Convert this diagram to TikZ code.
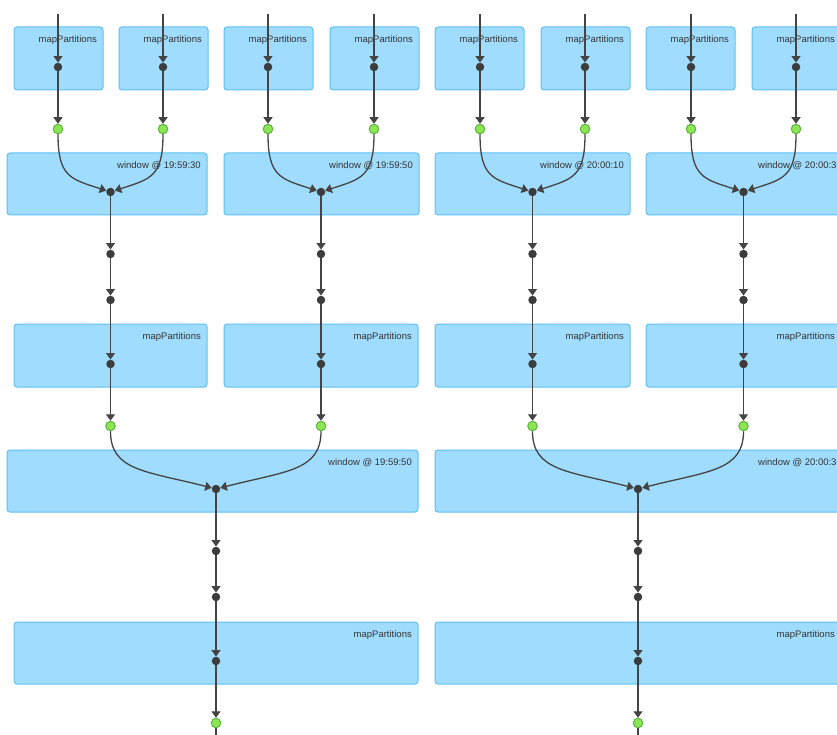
\documentclass[tikz,border=0pt]{standalone}
\usepackage{fontspec}
\newfontfamily\dagfont{Liberation Sans}
\usetikzlibrary{arrows.meta}

\definecolor{dStageFill}{HTML}{A0DCFD}
\definecolor{dStageEdge}{HTML}{5CC1F4}
\definecolor{dInk}{HTML}{333333}
\definecolor{dEdge}{HTML}{444444}
\definecolor{dDot}{HTML}{3C3C3C}
\definecolor{dCacheFill}{HTML}{8BE554}
\definecolor{dCacheEdge}{HTML}{5BB53C}
\newcommand{\rddbox}[6]{%
  \node[stagebox, minimum width=#4pt-#2pt, minimum height=#5pt-#3pt]
    (#1) at ({(#2+#4)/2},{(#3+#5)/2}) {};
  \node[stagelab] (#1lab) at ([xshift=-6pt,yshift=-13pt]#1.north east) {#6};}

\begin{document}
\begin{tikzpicture}[
  x=1pt, y=-1pt,
  stagebox/.style={draw=dStageEdge, fill=dStageFill, line width=1pt,
    rounded corners=3pt, inner sep=0pt, outer sep=0pt},
  stagelab/.style={anchor=east, inner sep=0pt, text=dInk,
    font=\dagfont\fontsize{9.5}{11}\selectfont},
  rdddot/.style={circle, fill=dDot, draw=none, minimum size=8.5pt, inner sep=0pt},
  cachedot/.style={circle, fill=dCacheFill, draw=dCacheEdge, line width=1pt,
    minimum size=9.5pt, inner sep=0pt},
  flow/.style={draw=dEdge, line width=1.3pt, -{Triangle[width=9pt,length=6.5pt]}},
  tail/.style={draw=dEdge, line width=1.3pt},
]
\useasboundingbox (0,0) rectangle (837,735);
\clip (0,0) rectangle (837,735);

% ---- first mapPartitions row --------------------------------------------
\rddbox{mpA1}{14}{27}{103}{90}{mapPartitions}
\rddbox{mpA2}{119}{27}{208}{90}{mapPartitions}
\rddbox{mpA3}{224}{27}{313}{90}{mapPartitions}
\rddbox{mpA4}{330}{27}{419}{90}{mapPartitions}
\rddbox{mpA5}{435}{27}{524}{90}{mapPartitions}
\rddbox{mpA6}{541}{27}{630}{90}{mapPartitions}
\rddbox{mpA7}{646}{27}{735}{90}{mapPartitions}
\rddbox{mpA8}{752}{27}{841}{90}{mapPartitions}

% ---- first window row ----------------------------------------------------
\rddbox{winA1}{7}{153}{207}{215}{window @ 19:59:30}
\rddbox{winA2}{224}{153}{419}{215}{window @ 19:59:50}
\rddbox{winA3}{435}{153}{630}{215}{window @ 20:00:10}
\rddbox{winA4}{646}{153}{848}{215}{window @ 20:00:30}

% ---- second mapPartitions row -------------------------------------------
\rddbox{mpB1}{14}{324}{207}{387}{mapPartitions}
\rddbox{mpB2}{224}{324}{418}{387}{mapPartitions}
\rddbox{mpB3}{435}{324}{630}{387}{mapPartitions}
\rddbox{mpB4}{646}{324}{841}{387}{mapPartitions}

% ---- second window row and last mapPartitions ---------------------------
\rddbox{winB1}{7}{450}{418}{512}{window @ 19:59:50}
\rddbox{winB2}{435}{450}{848}{512}{window @ 20:00:30}
\rddbox{mpC1}{14}{622}{418}{684}{mapPartitions}
\rddbox{mpC2}{435}{622}{841}{684}{mapPartitions}

% ---- incoming streams ----------------------------------------------------
\foreach \i/\x in {1/58,2/163,3/268,4/374,5/480,6/585,7/691,8/796}{
  \coordinate (inA\i) at (\x,14);
  \node[rdddot]   (dA\i) at (\x,67) {};
  \node[cachedot] (gA\i) at (\x,129) {};
  \draw[flow] (inA\i) -- (dA\i);
  \draw[flow] (dA\i) -- (gA\i);
}

% ---- first windows -------------------------------------------------------
\foreach \j/\x in {1/110.5,2/321,3/532.5,4/743.5}{
  \node[rdddot]   (wA\j) at (\x,192) {};
  \node[rdddot]   (sA\j) at (\x,254) {};
  \node[rdddot]   (tA\j) at (\x,300) {};
  \node[rdddot]   (dB\j) at (\x,364) {};
  \node[cachedot] (gB\j) at (\x,426) {};
  \draw[flow] (wA\j) -- (sA\j);
  \draw[flow] (sA\j) -- (tA\j);
  \draw[flow] (tA\j) -- (dB\j);
  \draw[flow] (dB\j) -- (gB\j);
}
\foreach \a/\b/\j in {1/2/1,3/4/2,5/6/3,7/8/4}{
  \draw[flow] (gA\a) .. controls +(0,48) and +(-40,-13) .. (wA\j);
  \draw[flow] (gA\b) .. controls +(0,48) and +(40,-13) .. (wA\j);
}

% ---- second windows ------------------------------------------------------
\foreach \k/\x in {1/216,2/638}{
  \node[rdddot]   (wB\k) at (\x,489) {};
  \node[rdddot]   (sB\k) at (\x,551) {};
  \node[rdddot]   (tB\k) at (\x,597) {};
  \node[rdddot]   (dC\k) at (\x,661) {};
  \node[cachedot] (gC\k) at (\x,723) {};
  \coordinate (outC\k) at (\x,745);
  \draw[flow] (wB\k) -- (sB\k);
  \draw[flow] (sB\k) -- (tB\k);
  \draw[flow] (tB\k) -- (dC\k);
  \draw[flow] (dC\k) -- (gC\k);
  \draw[tail] (gC\k) -- (outC\k);
}
\foreach \a/\b/\k in {1/2/1,3/4/2}{
  \draw[flow] (gB\a) .. controls +(0,45) and +(-70,-18) .. (wB\k);
  \draw[flow] (gB\b) .. controls +(0,45) and +(70,-18) .. (wB\k);
}
\end{tikzpicture}
\end{document}
